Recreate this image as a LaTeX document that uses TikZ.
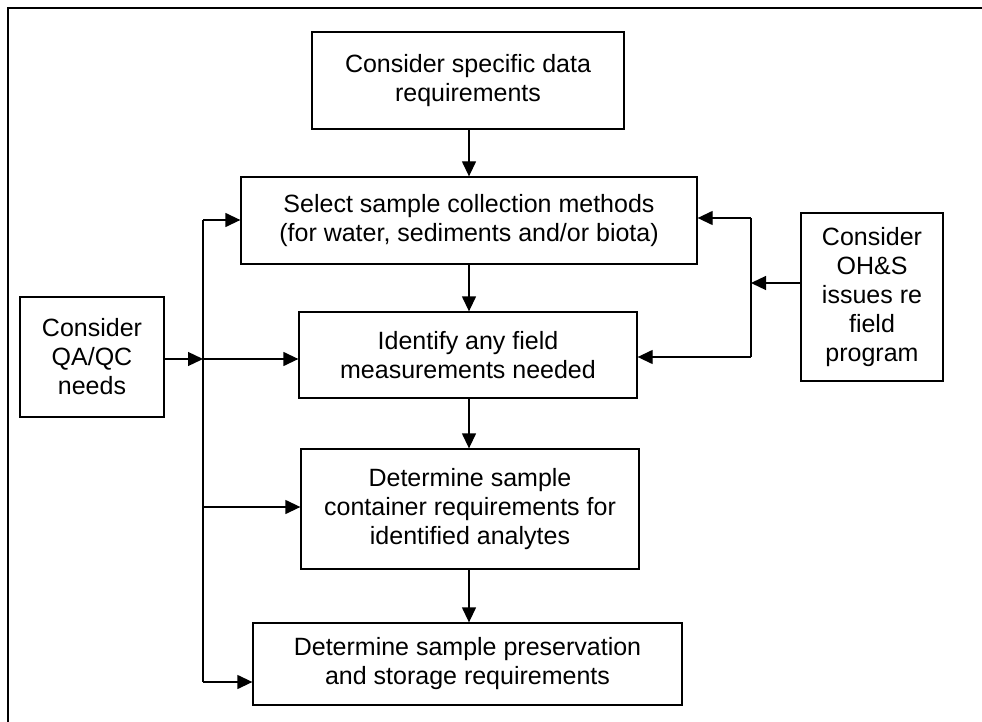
\documentclass[tikz,border=0pt]{standalone}
\usepackage{fontspec}
\setmainfont{Liberation Sans}
\usetikzlibrary{arrows.meta}
\begin{document}
\begin{tikzpicture}[x=1pt,y=-1pt,
  box/.style={draw,line width=1.3pt,rectangle,align=center,inner sep=0pt,
    font=\fontsize{25}{29}\selectfont},
  arr/.style={line width=1.3pt,-{Triangle[length=15pt,width=14pt]}},
  ln/.style={line width=1.3pt}]
\useasboundingbox (0,0) rectangle (982,722);
\draw[line width=1.6pt] (8,722) -- (8,8) -- (982,8);
\node[box,minimum width=312pt,minimum height=97pt] (b1) at (468,80.5) {Consider specific data\\requirements};
\node[box,minimum width=456pt,minimum height=87pt] (b2) at (469,220.5) {Select sample collection methods\\(for water, sediments and/or biota)};
\node[box,minimum width=338pt,minimum height=86pt] (b3) at (468,355) {Identify any field\\measurements needed};
\node[box,minimum width=338pt,minimum height=120pt] (b4) at (470,509) {Determine sample\\container requirements for\\identified analytes};
\node[box,minimum width=429pt,minimum height=82pt] (b5) at (467.5,664) {Determine sample preservation\\and storage requirements};
\node[box,minimum width=144pt,minimum height=120pt] (qa) at (92,357) {Consider\\QA/QC\\needs};
\node[box,minimum width=142pt,minimum height=168pt] (oh) at (872,297) {Consider\\OH\&S\\issues re\\field\\program};
% vertical flow
\draw[arr] (b1.south -| 469,0) -- (b2.north -| 469,0);
\draw[arr] (b2.south -| 469,0) -- (b3.north -| 469,0);
\draw[arr] (b3.south -| 469,0) -- (b4.north -| 469,0);
\draw[arr] (b4.south -| 469,0) -- (b5.north -| 469,0);
% left bus
\coordinate (l2) at (203,220);
\coordinate (l3) at (203,359);
\coordinate (l4) at (203,507);
\coordinate (l5) at (203,682);
\draw[arr] (qa.east |- l3) -- (l3);
\draw[ln] (l2) -- (l5);
\draw[arr] (l2) -- (b2.west |- l2);
\draw[arr] (l3) -- (b3.west |- l3);
\draw[arr] (l4) -- (b4.west |- l4);
\draw[arr] (l5) -- (b5.west |- l5);
% right bus
\coordinate (r2) at (751,218);
\coordinate (r3) at (751,357);
\coordinate (rm) at (751,283);
\draw[ln] (r2) -- (r3);
\draw[arr] (oh.west |- rm) -- (rm);
\draw[arr] (r2) -- (b2.east |- r2);
\draw[arr] (r3) -- (b3.east |- r3);
\end{tikzpicture}
\end{document}
